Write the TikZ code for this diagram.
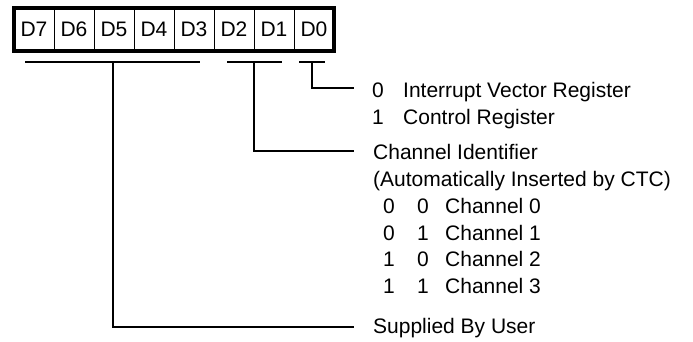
\documentclass[tikz,border=0pt]{standalone}
\usepackage{fontspec}
\setmainfont{Liberation Sans}
\begin{document}
\begin{tikzpicture}[x=1pt,y=-1pt,
  cell/.style={draw, line width=0.8pt, minimum width=40pt, minimum height=43pt, inner sep=0pt, anchor=center,
    font=\fontsize{21}{25}\selectfont},
  lbl/.style={anchor=base west, inner sep=0pt, font=\fontsize{21}{25}\selectfont},
  conn/.style={line width=2pt}]
\useasboundingbox (0,0) rectangle (693,341);
% register cells
\foreach \i/\n in {0/7,1/6,2/5,3/4,4/3,5/2,6/1,7/0}{
  \node[cell] (d\n) at (34+40*\i, 29.5) {D\n};
}
\draw[line width=4pt] (d7.north west) rectangle (d0.south east);
% underlines
\coordinate (u1a) at (25,62);  \coordinate (u1b) at (200,62);
\coordinate (u2a) at (227,62); \coordinate (u2b) at (282,62);
\coordinate (u3a) at (299,62); \coordinate (u3b) at (325,62);
\draw[conn] (u1a) -- (u1b);
\draw[conn] (u2a) -- (u2b);
\draw[conn] (u3a) -- (u3b);
\coordinate (u1) at (112.5,62);
\coordinate (u2) at (254,62);
\coordinate (u3) at (312,62);
% ends of connectors
\coordinate (e1) at (354,88);
\coordinate (e2) at (354,151);
\coordinate (e3) at (354,327);
\draw[conn] (u3) |- (e1);
\draw[conn] (u2) |- (e2);
\draw[conn] (u1) |- (e3);
% labels
\node[lbl] (b0a) at (372,97) {0};
\node[lbl] (ivr) at (403,97) {Interrupt Vector Register};
\node[lbl] (b0b) at (372,124) {1};
\node[lbl] (ctl) at (403,124) {Control Register};
\node[lbl] (chid) at (373,159) {Channel Identifier};
\node[lbl] (auto) at (373,186) {(Automatically Inserted by CTC)};
\foreach \k/\a/\b/\y in {0/0/0/213,1/0/1/240,2/1/0/266,3/1/1/293}{
  \node[lbl] (ca\k) at (383,\y) {\a};
  \node[lbl] (cb\k) at (417,\y) {\b};
  \node[lbl] (cn\k) at (445,\y) {Channel \k};
}
\node[lbl] (sup) at (373,333) {Supplied By User};
\end{tikzpicture}
\end{document}
